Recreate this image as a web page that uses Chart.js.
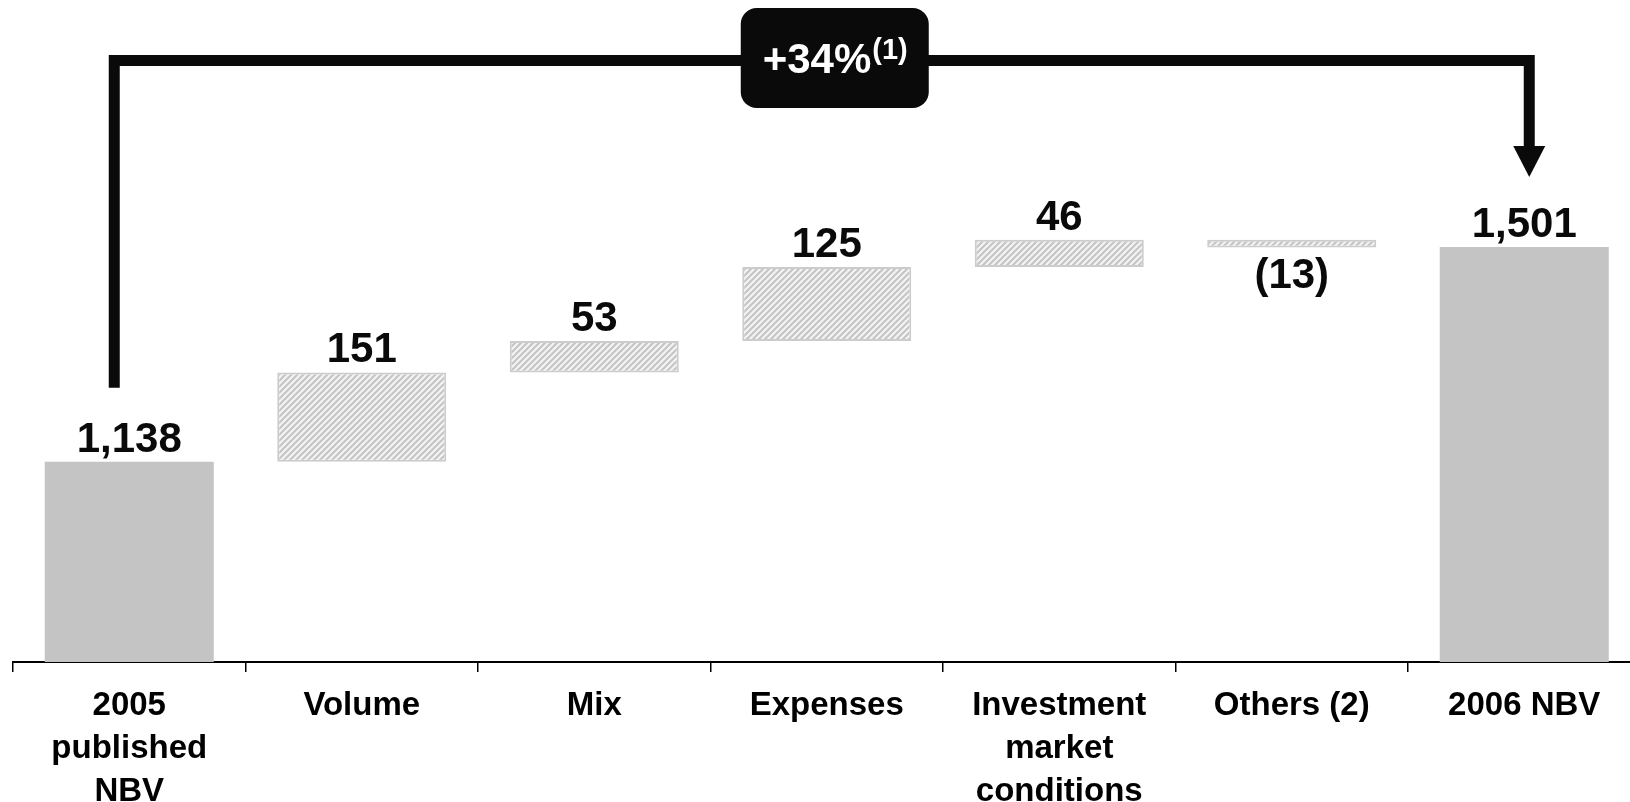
<!DOCTYPE html>
<html>
<head>
<meta charset="utf-8">
<script src="https://cdn.jsdelivr.net/npm/chart.js@4/dist/chart.umd.min.js"></script>
<style>
  html, body { margin: 0; padding: 0; background: #fff; overflow: hidden; }
  #wrap { width: 1645px; height: 802px; }
</style>
</head>
<body>
<div id="wrap"><canvas id="nbvChart" width="1645" height="802"></canvas></div>
<script>
// 데이터
const categories = [['2005', 'published', 'NBV'], 'Volume', 'Mix', 'Expenses', ['Investment', 'market', 'conditions'], 'Others (2)', '2006 NBV'];
const startValue = 1138;
const changes = [151, 53, 125, 46, -13];
const endValue = 1501;
const valueLabels = ['1,138', '151', '53', '125', '46', '(13)', '1,501'];
const growthText = '+34%';
const growthNote = '(1)';

const FONT = '"Liberation Sans", Arial, sans-serif';

// 빗금 패턴
function makeHatch() {
    const p = document.createElement('canvas');
    p.width = 6; p.height = 6;
    const c = p.getContext('2d');
    c.fillStyle = '#f3f3f3';
    c.fillRect(0, 0, 6, 6);
    c.strokeStyle = '#c4c4c4';
    c.lineWidth = 2;
    c.beginPath();
    c.moveTo(-1, 7); c.lineTo(7, -1);
    c.moveTo(-1, 1); c.lineTo(1, -1);
    c.moveTo(5, 7); c.lineTo(7, 5);
    c.stroke();
    return c.createPattern(p, 'repeat');
}

// 폭포 차트 데이터 구성
const barData = [startValue];
let running = startValue;
changes.forEach(function(d) {
    barData.push([running, running + d]);
    running += d;
});
barData.push(endValue);

document.addEventListener('DOMContentLoaded', function() {
    const ctx = document.getElementById('nbvChart');
    const hatch = makeHatch();
    const isTotal = function(i) { return i === 0 || i === barData.length - 1; };

    const labelPlugin = {
        id: 'waterfallLabels',
        afterDatasetsDraw: function(chart) {
            const g = chart.ctx;
            const meta = chart.getDatasetMeta(0);
            g.save();
            g.fillStyle = '#0a0a0a';
            g.font = 'bold 42px ' + FONT;
            g.textAlign = 'center';
            g.textBaseline = 'alphabetic';
            meta.data.forEach(function(bar, i) {
                const top = Math.min(bar.y, bar.base);
                const bottom = Math.max(bar.y, bar.base);
                const neg = !isTotal(i) && changes[i - 1] < 0;
                if (neg) {
                    g.fillText(valueLabels[i], bar.x, bottom + 40);
                } else {
                    g.fillText(valueLabels[i], bar.x, top - 10);
                }
            });
            g.restore();
        },
        afterDraw: function(chart) {
            const g = chart.ctx;
            const meta = chart.getDatasetMeta(0);
            const first = meta.data[0];
            const last = meta.data[meta.data.length - 1];
            const xL = first.x - 15;
            const xR = last.x + 5;
            const yTop = chart.chartArea.top + 60.5;
            const yLeftEnd = Math.min(first.y, first.base) - 74;
            const yArrowTip = Math.min(last.y, last.base) - 70;

            g.save();
            g.strokeStyle = '#0a0a0a';
            g.fillStyle = '#0a0a0a';
            g.lineWidth = 11;
            g.lineJoin = 'miter';
            g.lineCap = 'butt';
            g.beginPath();
            g.moveTo(xL, yLeftEnd);
            g.lineTo(xL, yTop);
            g.lineTo(xR, yTop);
            g.lineTo(xR, yArrowTip - 30);
            g.stroke();
            g.beginPath();
            g.moveTo(xR - 16, yArrowTip - 31);
            g.lineTo(xR + 16, yArrowTip - 31);
            g.lineTo(xR, yArrowTip);
            g.closePath();
            g.fill();

            // 성장률 박스
            const cx = chart.scales.x.getPixelForValue(3) + 8;
            const bw = 188, bh = 100;
            g.beginPath();
            g.roundRect(cx - bw / 2, 8, bw, bh, 16);
            g.fill();

            g.fillStyle = '#ffffff';
            g.textBaseline = 'alphabetic';
            g.textAlign = 'left';
            g.font = 'bold 42px ' + FONT;
            const w1 = g.measureText(growthText).width;
            g.font = 'bold 29px ' + FONT;
            const w2 = g.measureText(growthNote).width;
            const tx = cx - (w1 + w2) / 2;
            g.font = 'bold 42px ' + FONT;
            g.fillText(growthText, tx, 73);
            g.font = 'bold 29px ' + FONT;
            g.fillText(growthNote, tx + w1 + 1, 59);
            g.restore();
        }
    };

    new Chart(ctx, {
        type: 'bar',
        data: {
            labels: categories,
            datasets: [{
                data: barData,
                backgroundColor: barData.map(function(v, i) { return isTotal(i) ? '#c4c4c4' : hatch; }),
                borderColor: barData.map(function(v, i) { return isTotal(i) ? '#c4c4c4' : '#cccccc'; }),
                borderWidth: barData.map(function(v, i) { return isTotal(i) ? 0 : 2; }),
                borderSkipped: false,
                barPercentage: 0.727,
                categoryPercentage: 1.0
            }]
        },
        options: {
            responsive: false,
            animation: false,
            layout: {
                padding: { left: 13, right: 4.5, top: 0, bottom: 0 }
            },
            plugins: {
                legend: { display: false },
                tooltip: { enabled: false }
            },
            scales: {
                x: {
                    offset: true,
                    grid: {
                        offset: true,
                        drawOnChartArea: false,
                        drawTicks: true,
                        tickLength: 10,
                        color: '#000000',
                        lineWidth: 1.5
                    },
                    border: { display: true, color: '#000000', width: 2 },
                    ticks: {
                        color: '#000000',
                        padding: 12,
                        maxRotation: 0,
                        autoSkip: false,
                        font: { family: FONT, size: 33, weight: 'bold', lineHeight: '43px' }
                    },
                    afterFit: function(scale) { scale.height = 140; }
                },
                y: {
                    display: false,
                    min: 800,
                    max: 1918
                }
            }
        },
        plugins: [labelPlugin]
    });
});
</script>
</body>
</html>
